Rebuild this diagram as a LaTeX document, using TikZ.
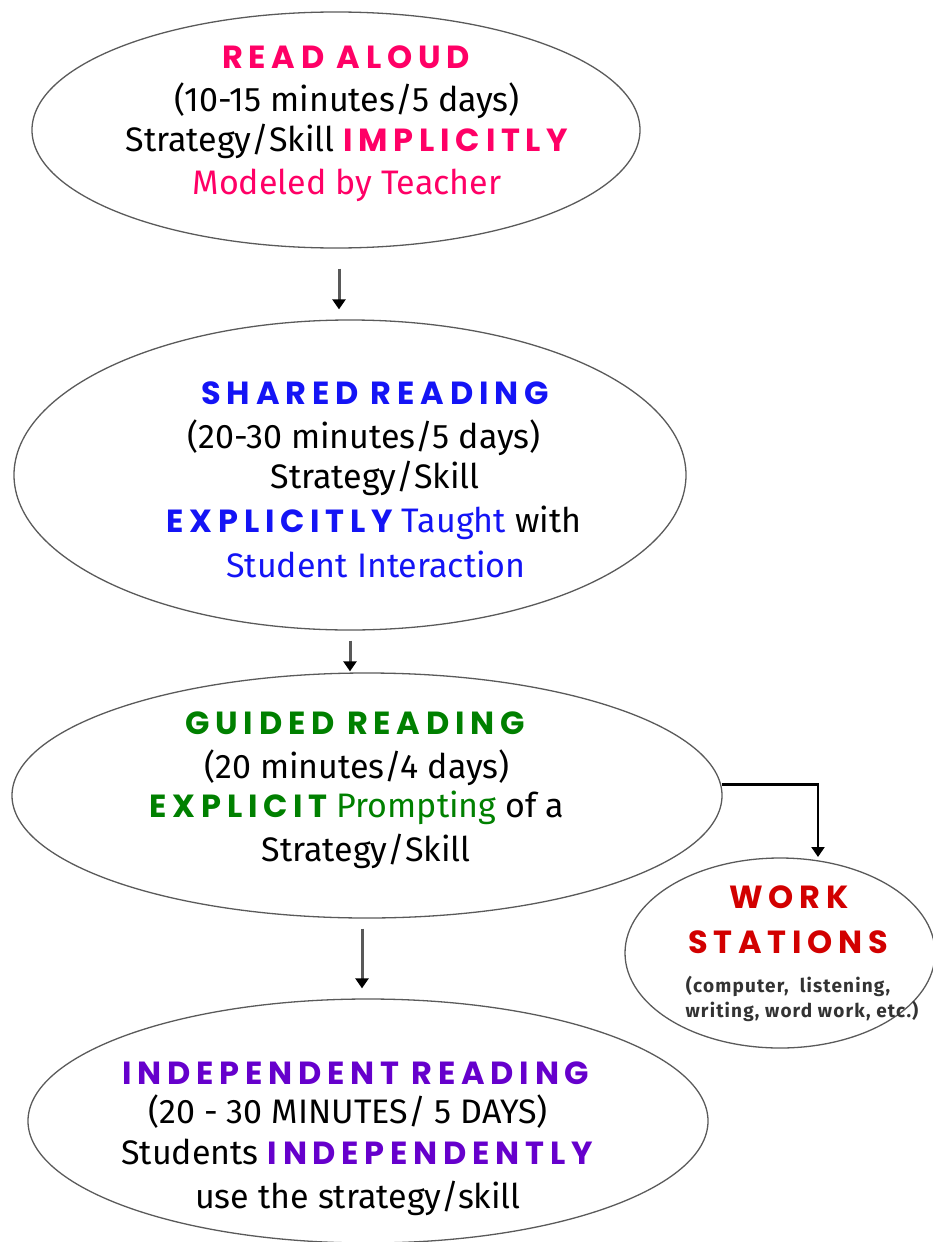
\documentclass[tikz,border=0pt]{standalone}
\usepackage{fontspec}
\setmainfont{Fira Sans}
\newfontfamily\capsfont{Poppins}[UprightFont=* Bold, LetterSpace=18]
\newfontfamily\smallfont{Fira Sans}[UprightFont=* Bold, LetterSpace=6]
\usetikzlibrary{shapes.geometric,arrows.meta}
\definecolor{rpink}{RGB}{255,0,102}
\definecolor{rblue}{RGB}{20,20,245}
\definecolor{rgreen}{RGB}{0,128,0}
\definecolor{rpurple}{RGB}{102,0,204}
\definecolor{rred}{RGB}{210,0,0}
\definecolor{edge}{RGB}{90,90,90}
\tikzset{
  oval/.style={draw=edge, line width=1.3pt, ellipse, inner sep=0pt},
  txt/.style={inner sep=0pt, font=\fontsize{34}{36}\selectfont, text height=0.7em, text depth=0pt},
  capstxt/.style={inner sep=0pt, font=\capsfont\fontsize{32}{34}\selectfont, text height=0.7em, text depth=0pt},
  small/.style={inner sep=0pt, font=\smallfont\fontsize{19}{21}\selectfont, text=black!80, text height=0.7em, text depth=0pt},
  arr/.style={draw=black!65, line width=3pt, -{Triangle[length=10pt,width=13pt,color=black]}},
}
\newcommand{\cb}[1]{{\capsfont\fontsize{32}{34}\selectfont #1}}
\begin{document}
\begin{tikzpicture}[x=1pt,y=-1pt]
\useasboundingbox (0,0) rectangle (932,1242);
% ellipses
\node[oval, minimum width=608pt, minimum height=236pt] (e1) at (336,130) {};
\node[oval, minimum width=672pt, minimum height=310pt] (e2) at (350,475) {};
\node[oval, minimum width=710pt, minimum height=245pt] (e3) at (367,795.5) {};
\node[oval, minimum width=310pt, minimum height=190pt] (ws) at (780,953) {};
\node[oval, minimum width=680pt, minimum height=244pt] (e4) at (368,1121) {};
% texts: read aloud
\node[capstxt, text=rpink] (t11) at (346,65) {READ ALOUD};
\node[txt] (t12) at (347,108) {(10-15 minutes/5 days)};
\node[txt] (t13) at (347,148) {Strategy/Skill \textcolor{rpink}{\cb{IMPLICITLY}}};
\node[txt, text=rpink] (t14) at (347,191) {Modeled by Teacher};
% shared reading
\node[capstxt, text=rblue] (t21) at (375,401) {SHARED READING};
\node[txt] (t22) at (364,445) {(20-30 minutes/5 days)};
\node[txt] (t23) at (375,485) {Strategy/Skill};
\node[txt] (t24) at (374,529) {\textcolor{rblue}{\cb{EXPLICITLY} Taught} with};
\node[txt, text=rblue] (t25) at (376,574) {Student Interaction};
% guided reading
\node[capstxt, text=rgreen] (t31) at (355,731) {GUIDED READING};
\node[txt] (t32) at (357,775) {(20 minutes/4 days)};
\node[txt] (t33) at (357,814) {\textcolor{rgreen}{\cb{EXPLICIT} Prompting} of a};
\node[txt] (t34) at (366,858) {Strategy/Skill};
% work stations
\node[capstxt, text=rred] (w1) at (789,905) {WORK};
\node[capstxt, text=rred] (w2) at (788,950) {STATIONS};
\node[small] (w3) at (788,989) {(computer, \ listening,};
\node[small] (w4) at (802,1014) {writing, word work, etc.)};
% independent reading
\node[capstxt, text=rpurple] (t41) at (356,1081) {INDEPENDENT READING};
\node[txt] (t42) at (348,1120) {(20 - 30 MINUTES/ 5 DAYS)};
\node[txt] (t43) at (357,1161) {Students \textcolor{rpurple}{\cb{INDEPENDENTLY}}};
\node[txt] (t44) at (358,1205) {use the strategy/skill};
% connectors
\draw[arr, shorten <=20pt, shorten >=10pt] (e1.south) ++(3,0) coordinate (a1s) -- (a1s |- e2.north);
\draw[arr, shorten <=10pt, shorten >=1pt] (e2.south) -- (e2.south |- e3.north);
\draw[arr, shorten <=10pt, shorten >=10pt] (e3.south) ++(-5,0) coordinate (a3s) -- (a3s |- e4.north);
\coordinate (wsin) at (818,857);
\draw[line width=2.2pt, -{Triangle[length=10pt,width=13pt]}] (e3.east) ++(-1,-11) coordinate (e3r) -- (e3r -| wsin) -- (wsin);
\end{tikzpicture}
\end{document}
